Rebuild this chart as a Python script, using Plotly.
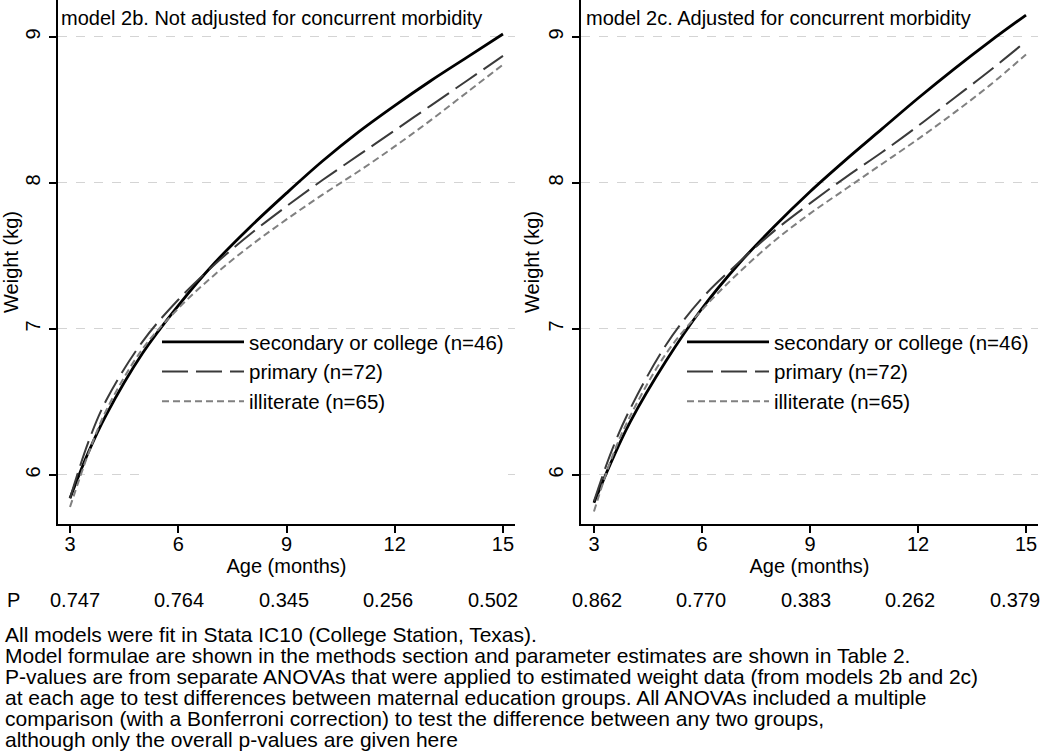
import plotly.graph_objects as go

# ---------------- data ----------------
ages = [3, 3.5, 4, 5, 6, 7, 8, 9, 10, 11, 12, 13, 14, 15]

# model 2b (not adjusted)
b_secondary  = [5.84, 6.15, 6.41, 6.83, 7.16, 7.45, 7.70, 7.93, 8.15, 8.35, 8.53, 8.70, 8.86, 9.02]
b_primary    = [5.84, 6.22, 6.51, 6.91, 7.20, 7.44, 7.65, 7.84, 8.02, 8.19, 8.36, 8.53, 8.70, 8.87]
b_illiterate = [5.78, 6.14, 6.44, 6.86, 7.14, 7.37, 7.57, 7.75, 7.92, 8.08, 8.25, 8.43, 8.62, 8.81]

# model 2c (adjusted)
c_secondary  = [5.81, 6.10, 6.36, 6.78, 7.14, 7.44, 7.70, 7.94, 8.16, 8.37, 8.58, 8.78, 8.97, 9.15]
c_primary    = [5.82, 6.17, 6.45, 6.89, 7.21, 7.45, 7.67, 7.86, 8.04, 8.21, 8.39, 8.58, 8.77, 8.97]
c_illiterate = [5.75, 6.12, 6.40, 6.83, 7.13, 7.38, 7.60, 7.79, 7.96, 8.13, 8.30, 8.48, 8.67, 8.88]

series_names = ["secondary or college (n=46)", "primary (n=72)", "illiterate (n=65)"]
panel_titles = ["model 2b. Not adjusted for concurrent morbidity",
                "model 2c. Adjusted for concurrent morbidity"]
x_ticks = [3, 6, 9, 12, 15]
y_ticks = [6, 7, 8, 9]

p_values = ["0.747", "0.764", "0.345", "0.256", "0.502",
            "0.862", "0.770", "0.383", "0.262", "0.379"]

footnotes = [
    "All models were fit in Stata IC10 (College Station, Texas).",
    "Model formulae are shown in the methods section and parameter estimates are shown in Table 2.",
    "P-values are from separate ANOVAs that were applied to estimated weight data (from models 2b and 2c)",
    "at each age to test differences between maternal education groups. All ANOVAs included a multiple",
    "comparison (with a Bonferroni correction) to test the difference between any two groups,",
    "although only the overall p-values are given here",
]

# ---------------- layout geometry (pixels) ----------------
W, H = 1050, 753
ML, MR, MT, MB = 58, 12, 0, 229
PW, PH = W - ML - MR, H - MT - MB

def px_x(p):
    return (p - ML) / PW

def px_y(p):
    return (H - MB - p) / PH

FONT = "Liberation Sans, Arial, sans-serif"
styles = [
    dict(color="black", width=2.8, dash="solid"),
    dict(color="#3a3a3a", width=2, dash="26px,8px"),
    dict(color="#808080", width=2, dash="7px,4px"),
]

fig = go.Figure()

panels = [
    ("x", "y", "legend", [b_secondary, b_primary, b_illiterate]),
    ("x2", "y2", "legend2", [c_secondary, c_primary, c_illiterate]),
]
for xa, ya, leg, ser in panels:
    for name, vals, st in zip(series_names, ser, styles):
        fig.add_trace(go.Scatter(
            x=ages, y=vals, mode="lines", name=name,
            line=dict(shape="spline", smoothing=1.0, **st),
            xaxis=xa, yaxis=ya, legend=leg, showlegend=True,
        ))

axis_common = dict(
    showline=True, linecolor="black", linewidth=1.5,
    ticks="outside", ticklen=7, tickwidth=1.5, tickcolor="black",
    tickfont=dict(family=FONT, size=20, color="black"),
    zeroline=False, mirror=False, automargin=False,
)
xcommon = dict(axis_common, tickvals=x_ticks, showgrid=False, ticklabelstandoff=-6,
               title=dict(text="Age (months)", font=dict(family=FONT, size=20, color="black"), standoff=0))
ycommon = dict(axis_common, tickvals=y_ticks, range=[5.664, 9.253], tickangle=-90,
               showgrid=True, gridcolor="#d4d4d4", gridwidth=1, griddash="dash",
               ticklabelstandoff=1,
               title=dict(text="Weight (kg)", font=dict(family=FONT, size=20, color="black"), standoff=0))

fig.update_layout(
    width=W, height=H,
    margin=dict(l=ML, r=MR, t=MT, b=MB, pad=0),
    paper_bgcolor="white", plot_bgcolor="white",
    font=dict(family=FONT, size=20, color="black"),
    xaxis=dict(xcommon, domain=[px_x(58), px_x(515)], range=[2.667, 15.333], anchor="y"),
    yaxis=dict(ycommon, domain=[0, 1], anchor="x"),
    xaxis2=dict(xcommon, domain=[px_x(581), px_x(1038)], range=[2.64, 15.333], anchor="y2"),
    yaxis2=dict(ycommon, domain=[0, 1], anchor="x2"),
    legend=dict(x=px_x(157), y=px_y(322), xanchor="left", yanchor="top",
                bgcolor="rgba(0,0,0,0)", font=dict(family=FONT, size=20.5),
                itemwidth=82, tracegroupgap=0),
    legend2=dict(x=px_x(682), y=px_y(322), xanchor="left", yanchor="top",
                 bgcolor="rgba(0,0,0,0)", font=dict(family=FONT, size=20.5),
                 itemwidth=82, tracegroupgap=0),
    showlegend=True,
)

# the reference's lowest gridline in the left panel is interrupted
fig.add_shape(type="line", xref="paper", yref="y", x0=px_x(143), x1=px_x(508), y0=6, y1=6,
              line=dict(color="white", width=3), layer="above")

annotations = []
# panel titles
for txt, xp in zip(panel_titles, [59, 584]):
    annotations.append(dict(text=txt, x=px_x(xp), y=px_y(18), xref="paper", yref="paper",
                            xanchor="left", yanchor="middle", showarrow=False,
                            font=dict(family=FONT, size=20, color="black")))
# P row
annotations.append(dict(text="P", x=px_x(5), y=px_y(600), xref="paper", yref="paper",
                        xanchor="left", yanchor="middle", showarrow=False,
                        font=dict(family=FONT, size=20, color="black")))
for i, pv in enumerate(p_values):
    annotations.append(dict(text=pv, x=px_x(75 + i * 104.4), y=px_y(600), xref="paper", yref="paper",
                            xanchor="center", yanchor="middle", showarrow=False,
                            font=dict(family=FONT, size=20, color="black")))
# footnotes
for i, line in enumerate(footnotes):
    annotations.append(dict(text=line, x=px_x(3), y=px_y(634 + i * 21), xref="paper", yref="paper",
                            xanchor="left", yanchor="middle", showarrow=False,
                            font=dict(family=FONT, size=21, color="black")))
fig.update_layout(annotations=annotations)

fig.write_html("out.html", config={"displayModeBar": False},
               post_script="document.body.style.margin='0';")
